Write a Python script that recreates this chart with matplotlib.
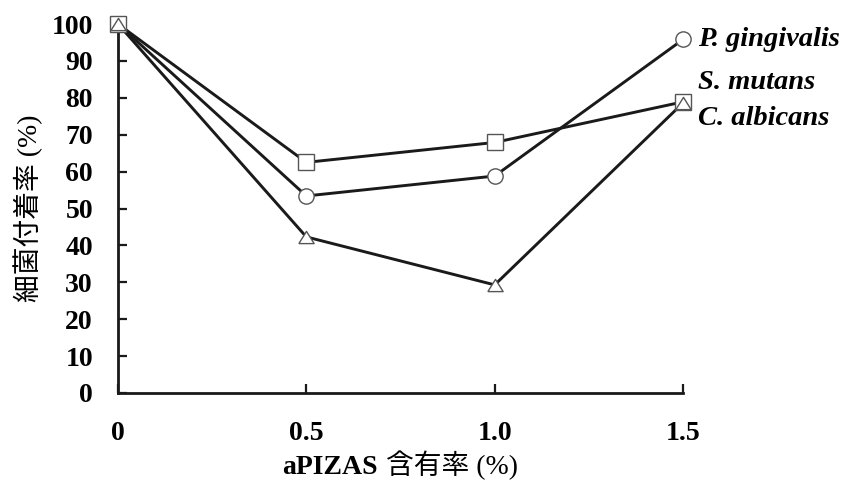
import matplotlib
matplotlib.use("Agg")
import matplotlib.pyplot as plt
from matplotlib.offsetbox import TextArea, HPacker, AnnotationBbox

# aPIZAS content (%) and bacterial adhesion rate (%)
content = [0, 0.5, 1.0, 1.5]
p_gingivalis = [100, 53.4, 58.8, 95.8]
s_mutans = [100, 62.5, 67.9, 78.9]
c_albicans = [100, 42.3, 29.3, 78.6]

series_names = ["P. gingivalis", "S. mutans", "C. albicans"]
x_ticks = [0, 0.5, 1.0, 1.5]
x_tick_labels = ["0", "0.5", "1.0", "1.5"]
y_ticks = list(range(0, 101, 10))

serif = "Liberation Serif"
mixed = ["Liberation Serif", "Noto Sans CJK JP"]

fig = plt.figure(figsize=(8.5, 4.83), dpi=100)
ax = fig.add_axes([118 / 850, 1 - 393 / 483, (683 - 118) / 850, (393 - 24) / 483])

# flattened open triangle
tri = [(-1, -0.8), (1, -0.8), (0, 0.8), (-1, -0.8)]
markers = ["o", "s", tri]
all_series = [p_gingivalis, s_mutans, c_albicans]

for vals in all_series:
    ax.plot(content, vals, color="#1a1a1a", lw=2.1, zorder=2, clip_on=False)
for i, (vals, mk) in enumerate(zip(all_series, markers)):
    ax.plot(content, vals, ls="none", marker=mk, ms=11, mfc="white",
            mec="#555555", mew=1.0, zorder=3 + i, clip_on=False)

# series names at the right end of each line
label_shift = [0, 5.3, -4.2]
for name, vals, dy in zip(series_names, all_series, label_shift):
    ax.annotate(name, xy=(1.5, vals[-1] + dy), xytext=(11, 0),
                textcoords="offset points", va="center", ha="left",
                fontsize=20.5, fontweight="bold", fontstyle="italic",
                family=serif, annotation_clip=False)

ax.set_xlim(0, 1.5)
ax.set_ylim(0, 100)
ax.set_xticks(x_ticks)
ax.set_xticklabels(x_tick_labels)
ax.set_yticks(y_ticks)
for lab in ax.get_xticklabels() + ax.get_yticklabels():
    lab.set_fontfamily(serif)
    lab.set_fontweight("bold")
    lab.set_fontsize(20)

ax.tick_params(direction="in", length=6.5, width=1.6, color="#1a1a1a")
ax.tick_params(axis="x", pad=20)
ax.tick_params(axis="y", pad=18)
for side in ["top", "right"]:
    ax.spines[side].set_visible(False)
for side in ["left", "bottom"]:
    ax.spines[side].set_linewidth(2.0)
    ax.spines[side].set_color("#1a1a1a")

ax.set_ylabel("細菌付着率 (%)", family=mixed, fontsize=20, labelpad=6)

# x label: bold latin part, regular CJK part
xlab = HPacker(children=[
    TextArea("aPIZAS", textprops=dict(family=serif, fontweight="bold", fontsize=20)),
    TextArea("含有率 (%)", textprops=dict(family=mixed, fontsize=20)),
], align="baseline", pad=0, sep=6)
ab = AnnotationBbox(xlab, (0.5, -0.197), xycoords="axes fraction",
                    box_alignment=(0.5, 0.5), frameon=False,
                    annotation_clip=False)
ax.add_artist(ab)

fig.savefig("out.png", dpi=100)
